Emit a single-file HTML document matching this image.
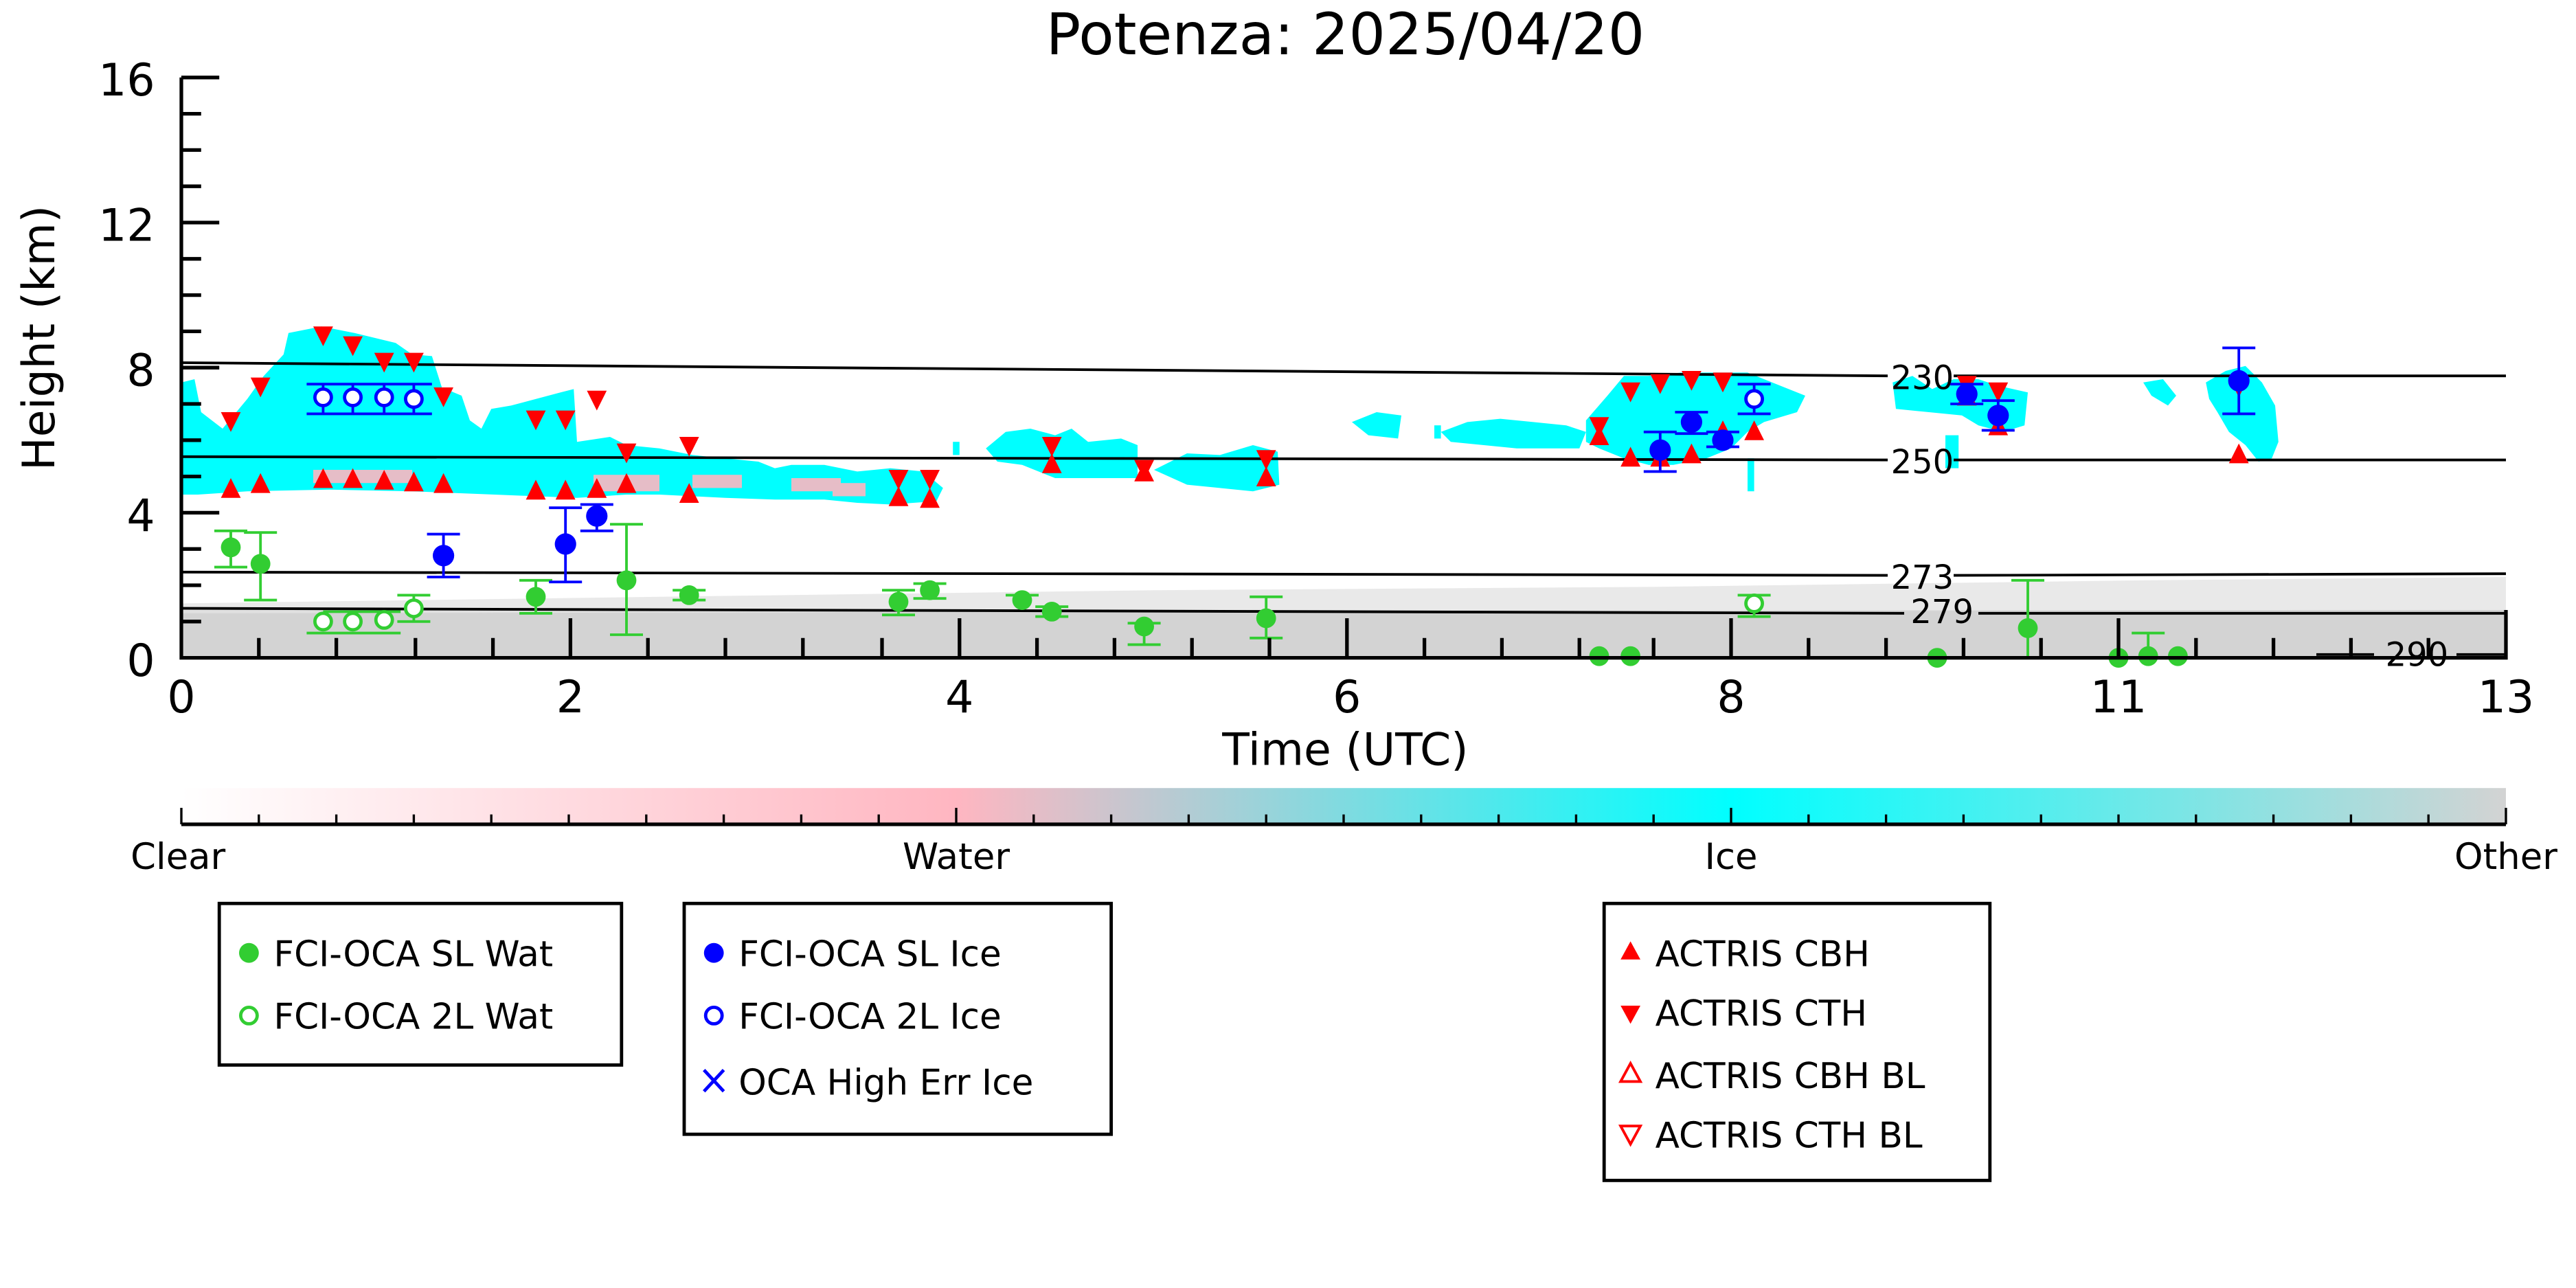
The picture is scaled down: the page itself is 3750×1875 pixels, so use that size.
<!DOCTYPE html>
<html><head><meta charset="utf-8"><style>html,body{margin:0;padding:0;background:#fff}svg{display:block}</style></head>
<body>
<svg xmlns="http://www.w3.org/2000/svg" width="3750" height="1875" viewBox="0 0 1562.5 781.25" font-family="DejaVu Sans, Liberation Sans, sans-serif">
<defs>
<linearGradient id="cb" x1="0" x2="1" y1="0" y2="0">
<stop offset="0" stop-color="#ffffff"/><stop offset="0.333" stop-color="#ffb6c1"/><stop offset="0.667" stop-color="#00ffff"/><stop offset="1" stop-color="#d3d3d3"/>
</linearGradient>
<symbol id="up" overflow="visible"><polygon points="0,-7 6,5 -6,5" fill="#ff0000"/></symbol>
<symbol id="dn" overflow="visible"><polygon points="0,7 6,-5 -6,-5" fill="#ff0000"/></symbol>
</defs>
<text x="816" y="33" font-size="35" text-anchor="middle">Potenza: 2025/04/20</text>
<rect x="110" y="370" width="1410" height="29" fill="#d3d3d3"/>
<polygon points="110,366 400,362 700,358 1000,356 1300,352 1520,350 1520,370 110,372" fill="#e4e4e4" opacity="0.8"/>
<g fill="#00ffff">
<polygon points="110,232 118,230 122,250 135,260 150,242 160,228 172,215 175,202 195,198 215,202 240,208 250,215 262,216 268,235 280,240 285,255 292,260 298,248 310,246 340,238 348,236 350,268 370,265 380,270 400,272 420,276 440,278 460,280 470,284 480,282 500,282 520,286 540,284 560,286 572,296 568,304 540,306 520,305 500,303 470,303 440,302 400,300 380,300 350,302 300,300 250,298 200,297 150,298 120,300 110,300"/>
<polygon points="598,272 610,262 625,260 640,264 650,260 660,268 680,266 690,270 690,290 660,290 640,290 620,282 605,280"/>
<polygon points="700,285 720,275 740,276 760,270 775,274 776,294 760,298 740,296 720,294"/>
<polygon points="820,256 835,250 850,252 848,266 830,264"/>
<polygon points="874,262 890,256 910,254 930,256 950,258 962,262 958,272 940,272 920,272 900,270 880,268"/>
<polygon points="962,255 975,240 985,228 1000,228 1020,226 1040,226 1060,226 1080,234 1095,240 1090,250 1070,256 1060,262 1050,272 1035,278 1015,282 1000,282 985,278 970,272 962,268"/>
<polygon points="1148,232 1160,228 1172,236 1185,230 1200,230 1212,234 1230,238 1228,258 1215,262 1200,258 1190,252 1170,250 1150,248"/>
<polygon points="1300,232 1312,230 1320,240 1315,246 1305,240"/>
<polygon points="1338,232 1350,225 1362,222 1372,232 1380,246 1382,268 1378,278 1370,280 1362,270 1352,262 1345,250 1340,242"/>
<rect x="1180" y="264" width="8" height="20"/>
<rect x="1060" y="278" width="4" height="20"/>
<rect x="870" y="258" width="4" height="8"/>
<rect x="578" y="268" width="4" height="8"/>
</g>
<g fill="#ffb6c1" opacity="0.9">
<rect x="190" y="285" width="60" height="8"/><rect x="360" y="288" width="40" height="10"/><rect x="420" y="288" width="30" height="8"/><rect x="480" y="290" width="30" height="8"/><rect x="505" y="293" width="20" height="8"/>
</g>
<g stroke="#000" stroke-width="1.6" fill="none">
<polyline points="110,220 1145,228"/><polyline points="1185,228 1520,228"/>
<polyline points="110,277 1145,279"/><polyline points="1185,279 1520,279"/>
<polyline points="110,347 1145,349"/><polyline points="1185,349 1520,348"/>
<polyline points="110,369 1155,372"/><polyline points="1200,372 1520,372"/>
<polyline points="1405,397 1440,397"/><polyline points="1490,397 1520,397"/>
</g>
<g font-size="20" text-anchor="middle">
<text x="1166" y="236">230</text><text x="1166" y="287">250</text><text x="1166" y="357">273</text><text x="1178" y="378">279</text><text x="1466" y="404">290</text>
</g>
<g stroke="#32cd32" stroke-width="1.6">
<path d="M140,322V344M130,322H150M130,344H150 M158,323V364M148,323H168M148,364H168 M325,352V372M315,352H335M315,372H335 M380,318V385M370,318H390M370,385H390 M418,358V364M408,358H428M408,364H428 M545,358V373M535,358H555M535,373H555 M564,354V363M554,354H574M554,363H574 M620,361V367M610,361H630 M638,368V374M628,368H648M628,374H648 M694,378V391M684,378H704M684,391H704 M768,362V387M758,362H778M758,387H778 M1230,352V400M1220,352H1240 M1303,384V400M1293,384H1313 M251,361V377M241,361H261M241,377H261 M1064,361V374M1054,361H1074M1054,374H1074 M196,384H214M233,384H214M186,384H243 M196,371H243"/>
</g>
<g fill="#32cd32">
<circle cx="140" cy="332" r="6"/><circle cx="158" cy="342" r="6"/><circle cx="325" cy="362" r="6"/><circle cx="380" cy="352" r="6"/><circle cx="418" cy="361" r="6"/><circle cx="545" cy="365" r="6"/><circle cx="564" cy="358" r="6"/><circle cx="620" cy="364" r="6"/><circle cx="638" cy="371" r="6"/><circle cx="694" cy="380" r="6"/><circle cx="768" cy="375" r="6"/><circle cx="970" cy="398" r="6"/><circle cx="989" cy="398" r="6"/><circle cx="1175" cy="399" r="6"/><circle cx="1230" cy="381" r="6"/><circle cx="1285" cy="399" r="6"/><circle cx="1303" cy="398" r="6"/><circle cx="1321" cy="398" r="6"/>
</g>
<g fill="#fff" stroke="#32cd32" stroke-width="2">
<circle cx="196" cy="377" r="5"/><circle cx="214" cy="377" r="5"/><circle cx="233" cy="376" r="5"/><circle cx="251" cy="369" r="5"/><circle cx="1064" cy="366" r="5"/>
</g>
<g>
<use href="#dn" x="140" y="255"/><use href="#dn" x="158" y="234"/><use href="#dn" x="196" y="203"/><use href="#dn" x="214" y="209"/><use href="#dn" x="233" y="219"/><use href="#dn" x="251" y="219"/><use href="#dn" x="269" y="240"/><use href="#dn" x="325" y="254"/><use href="#dn" x="343" y="254"/><use href="#dn" x="362" y="242"/><use href="#dn" x="380" y="274"/><use href="#dn" x="418" y="270"/><use href="#dn" x="545" y="290"/><use href="#dn" x="564" y="290"/><use href="#dn" x="638" y="270"/><use href="#dn" x="694" y="284"/><use href="#dn" x="768" y="278"/><use href="#dn" x="970" y="258"/><use href="#dn" x="989" y="237"/><use href="#dn" x="1007" y="232"/><use href="#dn" x="1026" y="230"/><use href="#dn" x="1045" y="231"/><use href="#dn" x="1193" y="233"/><use href="#dn" x="1212" y="237"/><use href="#dn" x="1358" y="234"/>
<use href="#up" x="140" y="297"/><use href="#up" x="158" y="294"/><use href="#up" x="196" y="291"/><use href="#up" x="214" y="291"/><use href="#up" x="233" y="292"/><use href="#up" x="251" y="293"/><use href="#up" x="269" y="294"/><use href="#up" x="325" y="298"/><use href="#up" x="343" y="298"/><use href="#up" x="362" y="297"/><use href="#up" x="380" y="294"/><use href="#up" x="418" y="300"/><use href="#up" x="545" y="302"/><use href="#up" x="564" y="303"/><use href="#up" x="638" y="282"/><use href="#up" x="694" y="287"/><use href="#up" x="768" y="290"/><use href="#up" x="970" y="265"/><use href="#up" x="989" y="278"/><use href="#up" x="1007" y="278"/><use href="#up" x="1026" y="276"/><use href="#up" x="1045" y="262"/><use href="#up" x="1064" y="262"/><use href="#up" x="1193" y="241"/><use href="#up" x="1212" y="259"/><use href="#up" x="1358" y="276"/>
</g>
<g stroke="#0000ff" stroke-width="1.6">
<path d="M269,324V350M259,324H279M259,350H279 M343,308V353M333,308H353M333,353H353 M362,306V322M352,306H372M352,322H372 M1007,262V286M997,262H1017M997,286H1017 M1026,250V263M1016,250H1036M1016,263H1036 M1045,262V271M1035,262H1055M1035,271H1055 M1193,233V245M1183,233H1203M1183,245H1203 M1212,243V261M1202,243H1222M1202,261H1222 M1358,211V251M1348,211H1368M1348,251H1368 M1064,233V251M1054,233H1074M1054,251H1074 M186,233H262M186,251H262 M196,233V251M214,233V251M233,233V251M251,233V251"/>
</g>
<g fill="#0000ff">
<circle cx="269" cy="337" r="6.5"/><circle cx="343" cy="330" r="6.5"/><circle cx="362" cy="313" r="6.5"/><circle cx="1007" cy="273" r="6.5"/><circle cx="1026" cy="256" r="6.5"/><circle cx="1045" cy="267" r="6.5"/><circle cx="1193" cy="239" r="6.5"/><circle cx="1212" cy="252" r="6.5"/><circle cx="1358" cy="231" r="6.5"/>
</g>
<g fill="#fff" stroke="#0000ff" stroke-width="2">
<circle cx="196" cy="241" r="5"/><circle cx="214" cy="241" r="5"/><circle cx="233" cy="241" r="5"/><circle cx="251" cy="242" r="5"/><circle cx="1064" cy="242" r="5"/>
</g>
<g stroke="#000" stroke-width="2.2" fill="none">
<polyline points="110,47 110,399 1520,399 1520,370"/>
<path d="M110,47H133M110,135H133M110,223H133M110,311H133 M110,69H122M110,91H122M110,113H122M110,157H122M110,179H122M110,201H122M110,245H122M110,267H122M110,289H122M110,333H122M110,355H122M110,377H122"/>
<path d="M346,399V375M582,399V375M817,399V375M1050,399V375M1285,399V375 M157,399V387M204,399V387M252,399V387M299,399V387M393,399V387M440,399V387M487,399V387M535,399V387M629,399V387M676,399V387M723,399V387M770,399V387M864,399V387M911,399V387M958,399V387M1003,399V387M1097,399V387M1144,399V387M1191,399V387M1238,399V387M1332,399V387M1379,399V387M1426,399V387M1473,399V387"/>
</g>
<g font-size="27" text-anchor="end">
<text x="94" y="58">16</text><text x="94" y="146">12</text><text x="94" y="234">8</text><text x="94" y="322">4</text><text x="94" y="410">0</text>
</g>
<g font-size="27" text-anchor="middle">
<text x="110" y="432">0</text><text x="346" y="432">2</text><text x="582" y="432">4</text><text x="817" y="432">6</text><text x="1050" y="432">8</text><text x="1285" y="432">11</text><text x="1520" y="432">13</text>
<text x="816" y="464">Time (UTC)</text>
<text transform="translate(33,205) rotate(-90)">Height (km)</text>
</g>
<rect x="110" y="478" width="1410" height="22" fill="url(#cb)"/>
<g stroke="#000" stroke-width="1.4">
<path d="M110,500H1520" stroke-width="2.2"/>
<path d="M110,500V490M580,500V490M1050,500V490M1520,500V490 M157,500V494M204,500V494M251,500V494M298,500V494M345,500V494M392,500V494M439,500V494M486,500V494M533,500V494M627,500V494M674,500V494M721,500V494M768,500V494M815,500V494M862,500V494M909,500V494M956,500V494M1003,500V494M1097,500V494M1144,500V494M1191,500V494M1238,500V494M1285,500V494M1332,500V494M1379,500V494M1426,500V494M1473,500V494"/>
</g>
<g font-size="22" text-anchor="middle">
<text x="108" y="527">Clear</text><text x="580" y="527">Water</text><text x="1050" y="527">Ice</text><text x="1520" y="527">Other</text>
</g>
<g fill="none" stroke="#000" stroke-width="2">
<rect x="133" y="548" width="244" height="98"/>
<rect x="415" y="548" width="259" height="140"/>
<rect x="973" y="548" width="234" height="168"/>
</g>
<g font-size="21.5">
<circle cx="151" cy="578" r="6" fill="#32cd32"/><text x="166" y="586">FCI-OCA SL Wat</text>
<circle cx="151" cy="616" r="5" fill="#fff" stroke="#32cd32" stroke-width="2"/><text x="166" y="624">FCI-OCA 2L Wat</text>
<circle cx="433" cy="578" r="6" fill="#0000ff"/><text x="448" y="586">FCI-OCA SL Ice</text>
<circle cx="433" cy="616" r="5" fill="#fff" stroke="#0000ff" stroke-width="2"/><text x="448" y="624">FCI-OCA 2L Ice</text>
<path d="M427,649L439,662M439,649L427,662" stroke="#0000ff" stroke-width="2"/><text x="448" y="664">OCA High Err Ice</text>
<polygon points="989,571 995,582 983,582" fill="#ff0000"/><text x="1004" y="586">ACTRIS CBH</text>
<polygon points="989,621 995,610 983,610" fill="#ff0000"/><text x="1004" y="622">ACTRIS CTH</text>
<polygon points="989,645 995,656 983,656" fill="#fff" stroke="#ff0000" stroke-width="1.6"/><text x="1004" y="660">ACTRIS CBH BL</text>
<polygon points="989,694 995,683 983,683" fill="#fff" stroke="#ff0000" stroke-width="1.6"/><text x="1004" y="696">ACTRIS CTH BL</text>
</g>
</svg>
</body></html>
